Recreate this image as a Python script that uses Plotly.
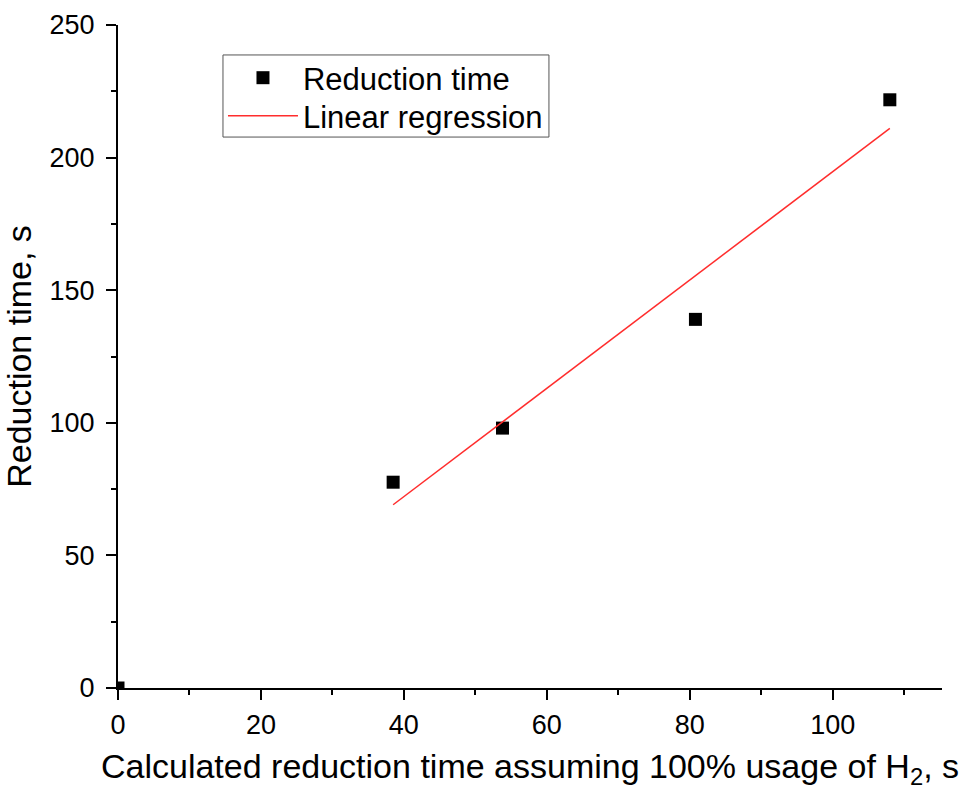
import plotly.graph_objects as go

# Data
calc_time = [0.0, 38.5, 53.8, 80.8, 108.0]
reduction_time = [0.0, 77.6, 98.0, 139.0, 221.8]

fit_x = [38.5, 108.0]
fit_y = [69.1, 211.0]

x_ticks = [0, 20, 40, 60, 80, 100]
y_ticks = [0, 50, 100, 150, 200, 250]

FONT = "Liberation Sans, Arial, sans-serif"

fig = go.Figure()
fig.add_trace(go.Scatter(
    x=calc_time, y=reduction_time, mode="markers", name="Reduction time",
    marker=dict(symbol="square", size=13, color="black"), legend="legend",
))
fig.add_trace(go.Scatter(
    x=fit_x, y=fit_y, mode="lines", name="Linear regression",
    line=dict(color="rgb(255,45,45)", width=1.5), legend="legend2",
))

axis_common = dict(
    showline=True, linecolor="black", linewidth=2,
    ticks="outside", ticklen=10, tickwidth=2, tickcolor="black",
    showgrid=False, zeroline=False, automargin=False,
    tickfont=dict(family=FONT, size=27, color="black"),
    minor=dict(ticks="outside", ticklen=5, tickwidth=2, tickcolor="black", showgrid=False),
)

fig.update_xaxes(
    range=[0, 115.3], tickvals=x_ticks, ticktext=[str(v) for v in x_ticks],
    minor_dtick=10, minor_tick0=0,
    title=dict(text="Calculated reduction time assuming 100% usage of H<sub>2</sub>, s",
               font=dict(family=FONT, size=34, color="black"), standoff=15),
    ticklabelstandoff=2,
    **axis_common,
)
fig.update_yaxes(
    range=[0, 250], tickvals=y_ticks, ticktext=[str(v) for v in y_ticks],
    minor_dtick=25, minor_tick0=0,
    title=dict(text="Reduction time, s",
               font=dict(family=FONT, size=34, color="black"), standoff=14),
    ticklabelstandoff=6,
    **axis_common,
)

legend_common = dict(
    xanchor="left", yanchor="middle",
    bgcolor="rgba(0,0,0,0)", borderwidth=0,
    font=dict(family=FONT, size=31, color="black"),
    itemwidth=70,
)

fig.update_layout(
    width=966, height=793,
    margin=dict(l=118, r=24, t=25, b=105, autoexpand=False),
    plot_bgcolor="white", paper_bgcolor="white",
    font=dict(family=FONT, color="black"),
    showlegend=True,
    legend=dict(x=0.1274, y=0.920, **legend_common),
    legend2=dict(x=0.1274, y=0.8627, **legend_common),
    shapes=[dict(
        type="rect", xref="paper", yref="paper",
        x0=0.1274, x1=0.523, y0=0.831, y1=0.9548,
        line=dict(color="#555555", width=1), fillcolor="white", layer="above",
    )],
)

fig.write_html("out.html")
